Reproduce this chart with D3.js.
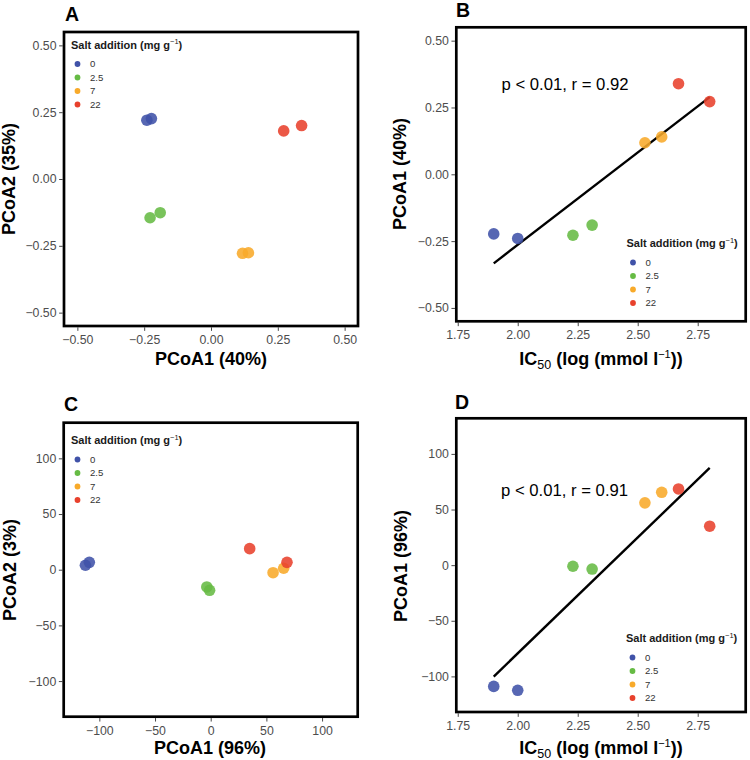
<!DOCTYPE html>
<html>
<head>
<meta charset="utf-8">
<script src="https://cdn.jsdelivr.net/npm/d3@7"></script>
<style>
  html, body { margin: 0; padding: 0; background: #fff; }
  svg { display: block; font-family: "Liberation Sans", Arial, Helvetica, sans-serif; }
</style>
</head>
<body>
<svg id="chart" width="750" height="760"></svg>
<script>
// ---------------- data ----------------
const groups = ["0", "2.5", "7", "22"];
const groupColors = ["#4052a8", "#66bb44", "#f8aa2a", "#e8412c"];
const sampleGroup = ["0", "0", "2.5", "2.5", "7", "7", "22", "22"];
const ic50 = [1.90, 2.00, 2.23, 2.31, 2.53, 2.60, 2.67, 2.80];
const brayPCoA1 = [-0.223, -0.240, -0.228, -0.190, 0.118, 0.140, 0.339, 0.272];
const brayPCoA2 = [0.226, 0.220, -0.145, -0.126, -0.278, -0.276, 0.200, 0.180];
const eucPCoA1 = [-109, -112.5, -1, -3.5, 56, 65.5, 68.5, 35];
const eucPCoA2 = [6.6, 4, -18.5, -15.5, -2.7, 1.3, 6.6, 18.9];
const ticksPCoABray = [-0.5, -0.25, 0, 0.25, 0.5];
const ticksPCoAEuc = [-100, -50, 0, 50, 100];
const ticksIC50 = [1.75, 2.00, 2.25, 2.50, 2.75];
const statsLabels = ["p < 0.01, r = 0.92", "p < 0.01, r = 0.91"];

// ---------------- layout ----------------
const svg = d3.select("#chart");
const color = d3.scaleOrdinal().domain(groups).range(groupColors);
const BORDER = 2.7, HALF = BORDER / 2;

const panels = [
  { letter: "A", box: [64, 358, 32, 326], xDom: [-0.55, 0.55], yDom: [-0.55, 0.55],
    xs: brayPCoA1, ys: brayPCoA2, xTicks: ticksPCoABray, yTicks: ticksPCoABray, xFmt: ".2f", yFmt: ".2f",
    xTitle: "PCoA1 (40%)", yTitle: "PCoA2 (35%)", ic: false,
    letterPos: [65, 20.5], xTitlePos: [211, 364.5], yTitlePos: [15, 179],
    legend: [71, 48.5], fit: null },
  { letter: "B", box: [456.3, 745.7, 27.3, 321.3], xDom: [1.744, 2.95], yDom: [-0.55, 0.55],
    xs: ic50, ys: brayPCoA1, xTicks: ticksIC50, yTicks: ticksPCoABray, xFmt: ".2f", yFmt: ".2f",
    xTitle: null, yTitle: "PCoA1 (40%)", ic: true,
    letterPos: [456, 16.5], xTitlePos: [601, 364.5], yTitlePos: [406, 174],
    legend: [626.5, 247], fit: statsLabels[0], fitPos: [501.5, 90] },
  { letter: "C", box: [63.7, 357.7, 422.7, 716.7], xDom: [-132, 132], yDom: [-132, 132],
    xs: eucPCoA1, ys: eucPCoA2, xTicks: ticksPCoAEuc, yTicks: ticksPCoAEuc, xFmt: "d", yFmt: "d",
    xTitle: "PCoA1 (96%)", yTitle: "PCoA2 (3%)", ic: false,
    letterPos: [64, 410.5], xTitlePos: [210, 754], yTitlePos: [16, 570],
    legend: [71, 444], fit: null },
  { letter: "D", box: [456.3, 745.7, 418.3, 712], xDom: [1.744, 2.95], yDom: [-132, 132],
    xs: ic50, ys: eucPCoA1, xTicks: ticksIC50, yTicks: ticksPCoAEuc, xFmt: ".2f", yFmt: "d",
    xTitle: null, yTitle: "PCoA1 (96%)", ic: true,
    letterPos: [455, 408.5], xTitlePos: [601, 753.5], yTitlePos: [406.5, 566],
    legend: [626, 642], fit: statsLabels[1], fitPos: [501, 495.5] }
];

function linFit(xs, ys) {
  const mx = d3.mean(xs), my = d3.mean(ys);
  let sxy = 0, sxx = 0;
  xs.forEach((x, i) => { sxy += (x - mx) * (ys[i] - my); sxx += (x - mx) * (x - mx); });
  const b = sxy / sxx;
  return x => my + b * (x - mx);
}

panels.forEach(p => {
  const [x0, x1, y0, y1] = p.box;
  const x = d3.scaleLinear().domain(p.xDom).range([x0, x1]);
  const y = d3.scaleLinear().domain(p.yDom).range([y1, y0]);
  const g = svg.append("g");
  const mk = f => v => d3.format(f)(v).replace("-", "\u2212");

  // axes
  const ax = g.append("g").attr("transform", `translate(0,${y1 + HALF})`)
    .call(d3.axisBottom(x).tickValues(p.xTicks).tickSize(3.5).tickPadding(4.3).tickFormat(mk(p.xFmt)));
  const ay = g.append("g").attr("transform", `translate(${x0 - HALF},0)`)
    .call(d3.axisLeft(y).tickValues(p.yTicks).tickSize(3.5).tickPadding(2.6).tickFormat(mk(p.yFmt)));
  [ax, ay].forEach(a => {
    a.select(".domain").remove();
    a.selectAll(".tick line").attr("stroke", "#333").attr("stroke-width", 0.9);
    a.selectAll(".tick text").attr("fill", "#4d4d4d").attr("font-size", 12.3)
      .attr("font-family", "'Liberation Sans', Arial, sans-serif");
  });

  // panel letter
  g.append("text").attr("x", p.letterPos[0]).attr("y", p.letterPos[1])
    .attr("font-size", 19.5).attr("font-weight", "bold").attr("fill", "#000").text(p.letter);

  // axis titles
  const xt = g.append("text").attr("x", p.xTitlePos[0]).attr("y", p.xTitlePos[1])
    .attr("text-anchor", "middle").attr("font-size", 18).attr("font-weight", "bold").attr("fill", "#000");
  if (p.ic) {
    xt.append("tspan").text("IC");
    xt.append("tspan").attr("font-size", 12.5).attr("font-weight", "normal").attr("dy", 4).text("50");
    xt.append("tspan").attr("dy", -4).text(" (log (mmol l");
    xt.append("tspan").attr("font-size", 11).attr("font-weight", "normal").attr("dy", -7).text("\u22121");
    xt.append("tspan").attr("dy", 7).text("))");
  } else {
    xt.text(p.xTitle);
  }
  g.append("text").attr("transform", `translate(${p.yTitlePos[0]},${p.yTitlePos[1]}) rotate(-90)`)
    .attr("text-anchor", "middle").attr("font-size", 18).attr("font-weight", "bold").attr("fill", "#000")
    .text(p.yTitle);

  // regression line
  if (p.fit) {
    const f = linFit(p.xs, p.ys);
    const ext = d3.extent(p.xs);
    g.append("line")
      .attr("x1", x(ext[0])).attr("y1", y(f(ext[0])))
      .attr("x2", x(ext[1])).attr("y2", y(f(ext[1])))
      .attr("stroke", "#000").attr("stroke-width", 2.4);
    g.append("text").attr("x", p.fitPos[0]).attr("y", p.fitPos[1])
      .attr("font-size", 16.7).attr("fill", "#000").text(p.fit);
  }

  // points
  g.append("g").selectAll("circle").data(p.xs.map((v, i) => ({ x: v, y: p.ys[i], grp: sampleGroup[i] })))
    .join("circle")
    .attr("cx", d => x(d.x)).attr("cy", d => y(d.y)).attr("r", 5.8)
    .attr("fill", d => color(d.grp)).attr("fill-opacity", 0.88);

  // legend
  const lg = g.append("g").attr("transform", `translate(${p.legend[0]},${p.legend[1]})`);
  const lt = lg.append("text").attr("font-size", 11).attr("font-weight", "bold").attr("fill", "#1a1a1a");
  lt.append("tspan").text("Salt addition (mg g");
  lt.append("tspan").attr("font-size", 7.5).attr("font-weight", "normal").attr("dy", -4.5).text("\u22121");
  lt.append("tspan").attr("dy", 4.5).text(")");
  groups.forEach((gr, i) => {
    const cy = 15.5 + i * 13.5;
    lg.append("circle").attr("cx", 6.5).attr("cy", cy).attr("r", 2.9).attr("fill", color(gr));
    lg.append("text").attr("x", 19).attr("y", cy).attr("dy", "0.35em")
      .attr("font-size", 9.6).attr("fill", "#333").text(gr);
  });

  // panel border
  g.append("rect").attr("x", x0).attr("y", y0).attr("width", x1 - x0).attr("height", y1 - y0)
    .attr("fill", "none").attr("stroke", "#000").attr("stroke-width", BORDER);
});
</script>
</body>
</html>
